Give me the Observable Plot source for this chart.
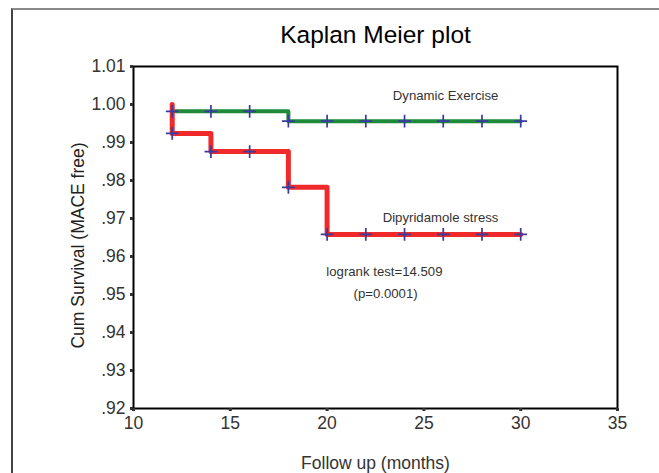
<!DOCTYPE html>
<html>
<head>
<meta charset="utf-8">
<script src="https://cdn.jsdelivr.net/npm/d3@7"></script>
<script src="https://cdn.jsdelivr.net/npm/@observablehq/plot@0.6"></script>
<style>
  html, body { margin: 0; padding: 0; background: #fff; }
  #wrap { position: relative; width: 659px; height: 473px; overflow: hidden; }
  #edge { position: absolute; left: 11px; top: 8px; width: 700px; height: 600px;
          border-left: 2px solid #444; border-top: 2px solid #8a8a8a; }
  #chart { position: absolute; left: 0; top: 0; }
  svg { font-family: "Liberation Sans", Arial, sans-serif; }
</style>
</head>
<body>
<div id="wrap"><div id="edge"></div><div id="chart"></div></div>
<script>
// Kaplan–Meier step curves (time in months, cumulative survival)
const exerciseTime = [12, 18, 30];
const exerciseSurv = [0.9982, 0.9956, 0.9956];
const dipyTime = [12, 12, 14, 18, 20, 30];
const dipySurv = [1.000, 0.9924, 0.9876, 0.9782, 0.9658, 0.9658];

// Censored observations (+ marks)
const censorTime = [12, 14, 16, 18, 20, 22, 24, 26, 28, 30];
const exerciseCensorSurv = [0.9982, 0.9982, 0.9982, 0.9956, 0.9956, 0.9956, 0.9956, 0.9956, 0.9956, 0.9956];
const dipyCensorSurv = [0.9924, 0.9876, 0.9876, 0.9782, 0.9658, 0.9658, 0.9658, 0.9658, 0.9658, 0.9658];

const xTicks = [10, 15, 20, 25, 30, 35];
const yTicks = [0.92, 0.93, 0.94, 0.95, 0.96, 0.97, 0.98, 0.99, 1.00, 1.01];

const titleText = "Kaplan Meier plot";
const xLabel = "Follow up (months)";
const yLabel = "Cum Survival (MACE free)";
const seriesLabels = ["Dynamic Exercise", "Dipyridamole stress"];
const statLabels = ["logrank test=14.509", "(p=0.0001)"];

const exercise = exerciseTime.map((t, i) => ({t, s: exerciseSurv[i]}));
const dipy = dipyTime.map((t, i) => ({t, s: dipySurv[i]}));
const censE = censorTime.map((t, i) => ({t, s: exerciseCensorSurv[i]}));
const censD = censorTime.map((t, i) => ({t, s: dipyCensorSurv[i]}));

const fmtY = d => { const s = d.toFixed(2); return d >= 1 ? s : s.slice(1); };

const chart = Plot.plot({
  width: 659,
  height: 473,
  marginLeft: 133,
  marginRight: 42,
  marginTop: 66,
  marginBottom: 65,
  style: {fontFamily: "'Liberation Sans', Arial, sans-serif", background: "transparent"},
  x: {domain: [10, 35]},
  y: {domain: [0.92, 1.01]},
  marks: [
    Plot.frame({stroke: "#000", strokeWidth: 2}),
    Plot.axisX({ticks: xTicks, tickSize: 3, tickPadding: 5, strokeWidth: 3, fontSize: 12, color: "#333",
                label: xLabel, labelAnchor: "center", labelArrow: "none", labelOffset: 60}),
    Plot.axisY({ticks: yTicks, tickFormat: fmtY, tickSize: 3, tickPadding: 5, strokeWidth: 3, fontSize: 12, color: "#333",
                label: null}),
    Plot.text([yLabel], {x: 7.16, y: 0.9629, rotate: -90, text: d => d, fontSize: 17.5, fill: "#222",
                textAnchor: "middle", lineAnchor: "middle"}),
    Plot.line(exercise, {x: "t", y: "s", curve: "step-after", stroke: "#1f8a3a", strokeWidth: 4}),
    Plot.line(dipy, {x: "t", y: "s", curve: "step-after", stroke: "#f02a2a", strokeWidth: 5}),
    Plot.dot(censE, {x: "t", y: "s", symbol: "plus", r: 4.2, stroke: "#3a3aa0", strokeWidth: 1.7}),
    Plot.dot(censD, {x: "t", y: "s", symbol: "plus", r: 4.2, stroke: "#3a3aa0", strokeWidth: 1.7}),
    Plot.text([seriesLabels[0]], {x: 26.12, y: 1.0024, text: d => d, fontSize: 13.2, fill: "#333"}),
    Plot.text([seriesLabels[1]], {x: 25.86, y: 0.9703, text: d => d, fontSize: 13.2, fill: "#333"}),
    Plot.text([statLabels[0]], {x: 22.96, y: 0.9561, text: d => d, fontSize: 13.2, fill: "#333"}),
    Plot.text([statLabels[1]], {x: 23.02, y: 0.9503, text: d => d, fontSize: 13.2, fill: "#333"}),
    Plot.text([titleText], {frameAnchor: "top", lineAnchor: "middle", dy: -31.5, text: d => d, fontSize: 24.5, fill: "#000"})
  ]
});
chart.querySelectorAll("g[aria-label$='label'] text, g[aria-label$='label']").forEach(el => el.setAttribute("font-size", 17.5));
document.getElementById("chart").appendChild(chart);
</script>
</body>
</html>
